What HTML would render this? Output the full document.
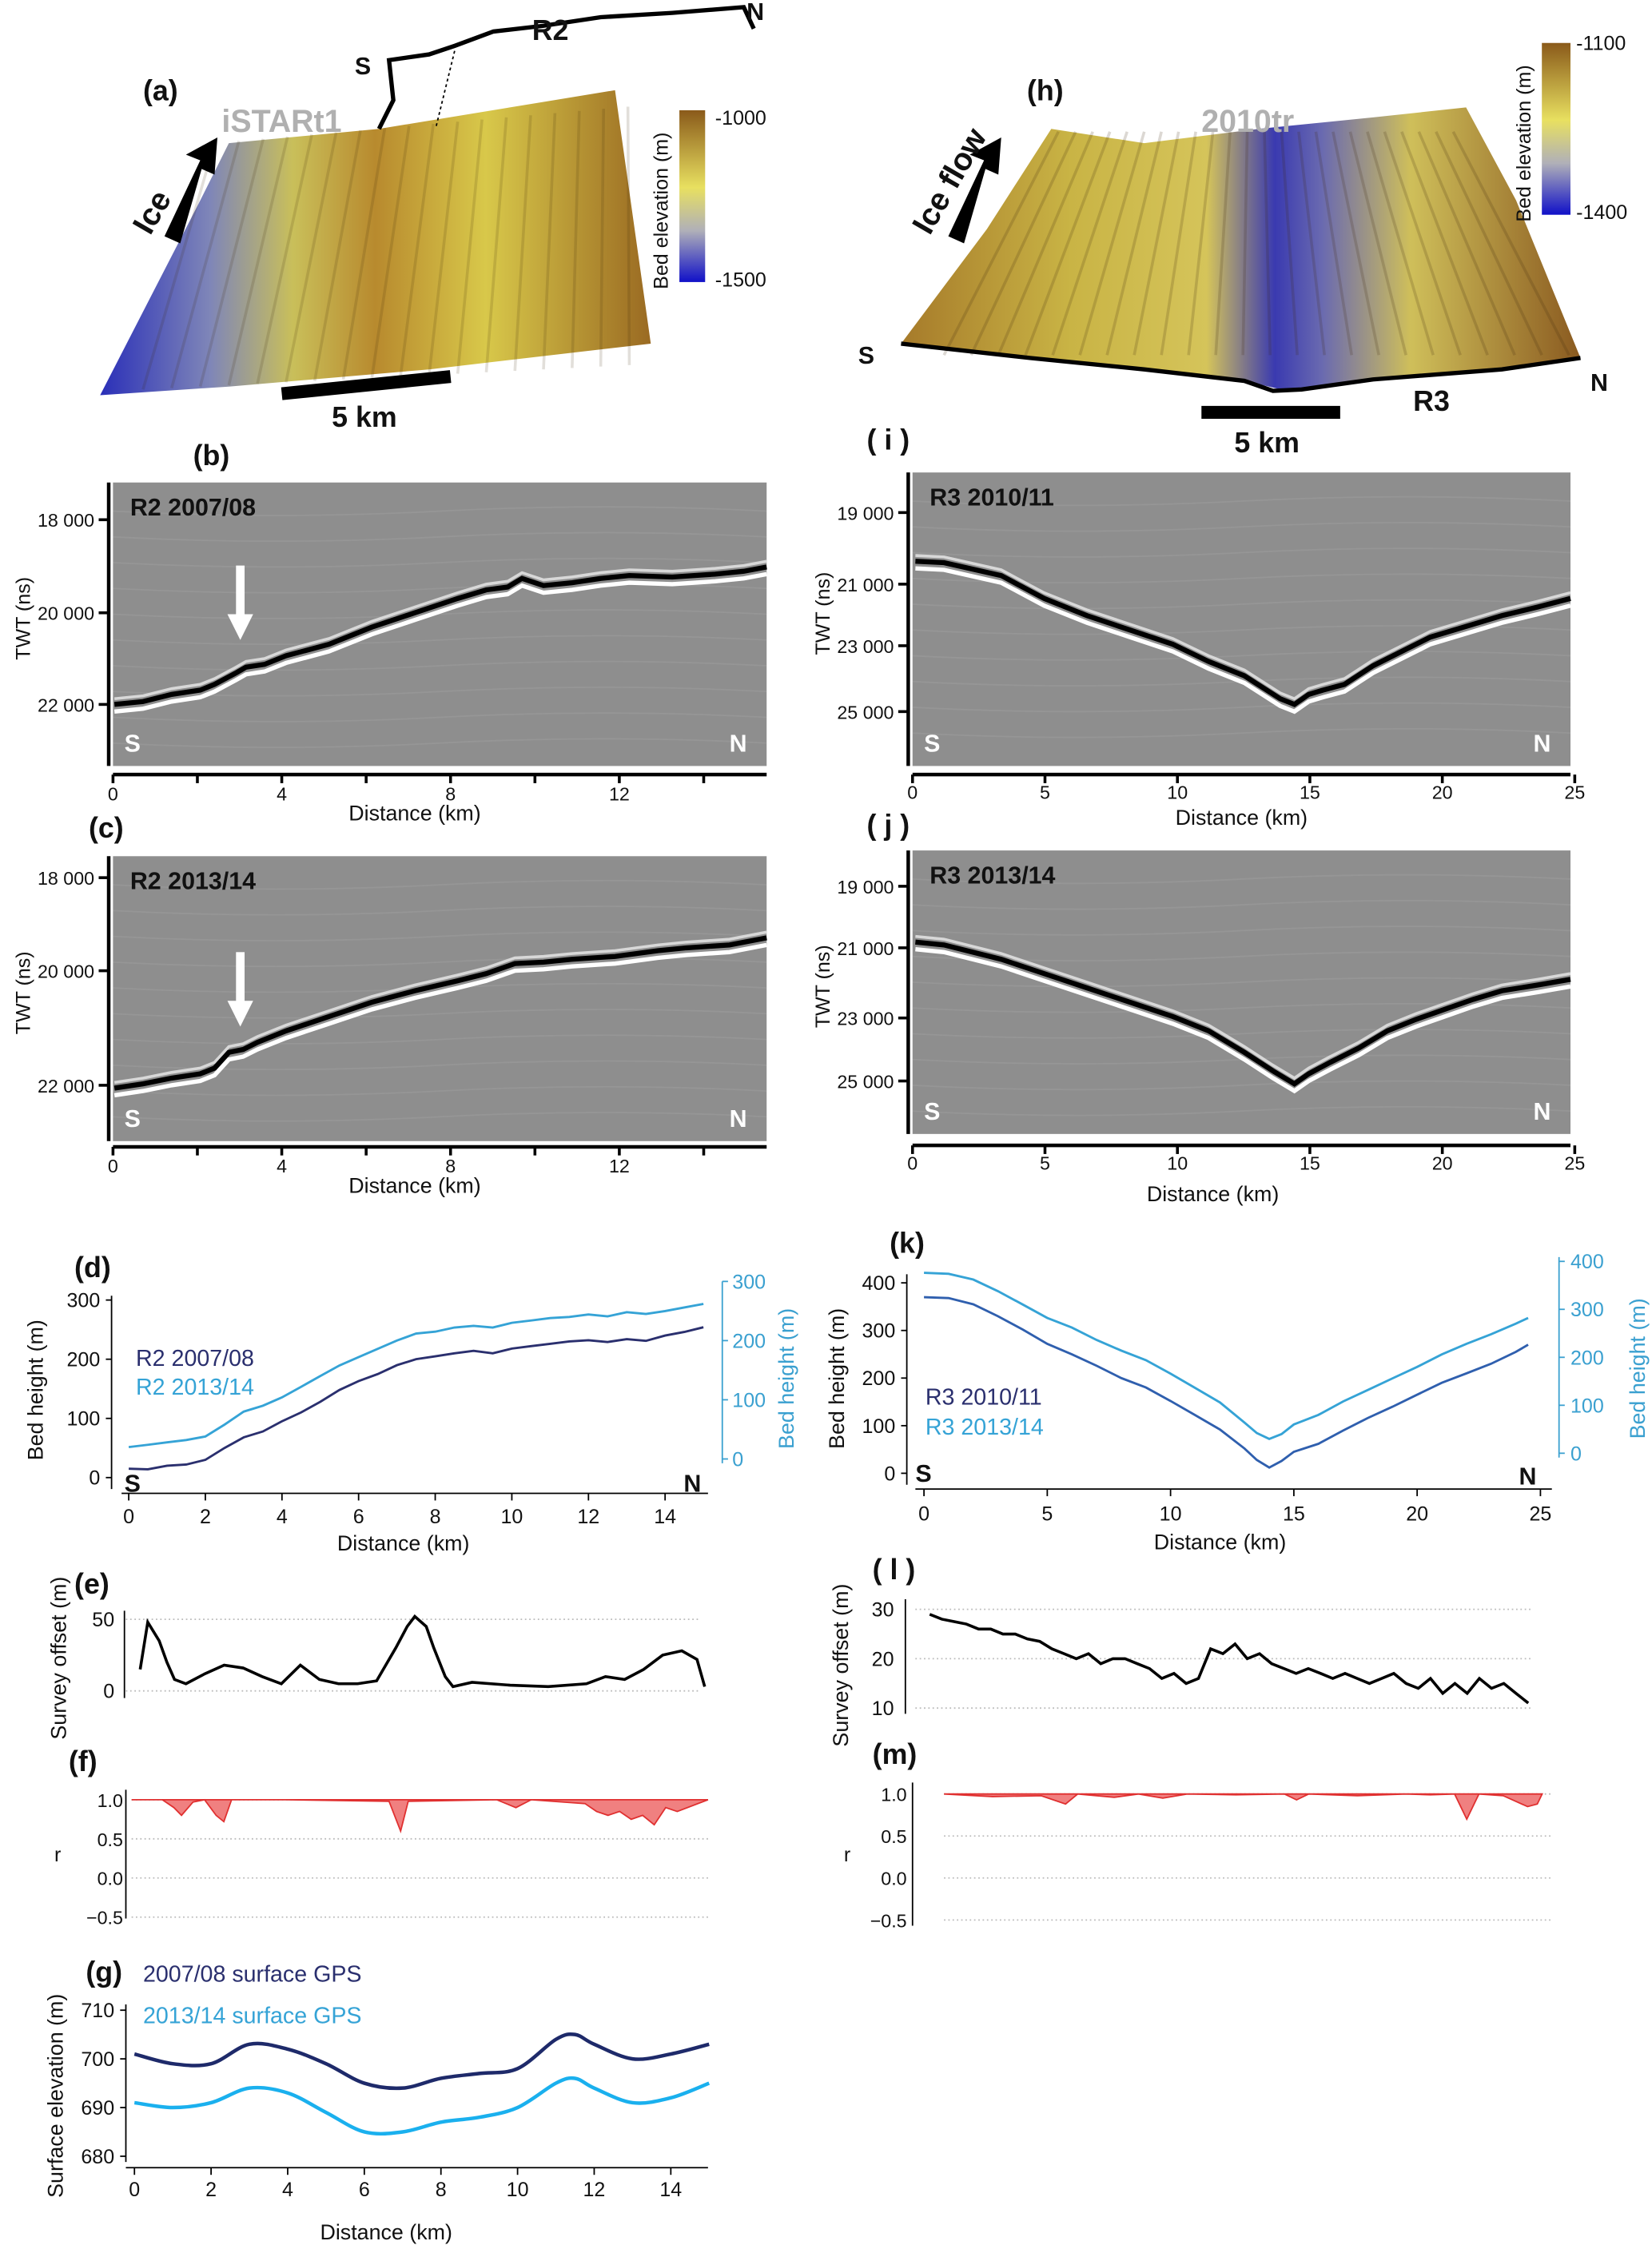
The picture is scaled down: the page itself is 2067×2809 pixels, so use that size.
<!DOCTYPE html>
<html><head><meta charset="utf-8"><style>
html,body{margin:0;padding:0;background:#fff}
svg{display:block}
text{font-family:"Liberation Sans",sans-serif}
</style></head><body>
<svg id="fig" xmlns="http://www.w3.org/2000/svg" width="2067" height="2809" viewBox="0 0 1155 1568" preserveAspectRatio="none">
<defs>
<linearGradient id="gA" x1="0" y1="0" x2="1" y2="0">
<stop offset="0" stop-color="#2a2fb8"/><stop offset="0.2" stop-color="#7f86b8"/><stop offset="0.35" stop-color="#c9bf5a"/><stop offset="0.5" stop-color="#b88a2e"/><stop offset="0.7" stop-color="#d8c84a"/><stop offset="1" stop-color="#9a6a22"/></linearGradient>
<linearGradient id="gH" x1="0" y1="0" x2="1" y2="0">
<stop offset="0" stop-color="#a67a2a"/><stop offset="0.25" stop-color="#c9b445"/><stop offset="0.45" stop-color="#d5c45a"/><stop offset="0.55" stop-color="#3a3ab0"/><stop offset="0.62" stop-color="#6a6ab0"/><stop offset="0.75" stop-color="#cfbf5a"/><stop offset="1" stop-color="#8a5a20"/></linearGradient>
<linearGradient id="cb" x1="0" y1="0" x2="0" y2="1">
<stop offset="0" stop-color="#8a5a1a"/><stop offset="0.45" stop-color="#e8e060"/><stop offset="0.7" stop-color="#b0b0b8"/><stop offset="1" stop-color="#1010c8"/></linearGradient>
</defs>
<g id="root"></g>
</svg>
<script>
// ---------- data ----------
const dKm=[0,0.5,1,1.5,2,2.5,3,3.5,4,4.5,5,5.5,6,6.5,7,7.5,8,8.5,9,9.5,10,10.5,11,11.5,12,12.5,13,13.5,14,14.5,15];
const d0708=[15,14,20,22,30,50,68,78,95,110,128,148,163,175,190,200,205,210,214,210,218,222,226,230,232,229,234,231,240,246,254];
const d1314=[20,24,28,32,38,58,80,90,104,122,140,158,172,186,200,212,215,222,225,222,230,234,238,240,244,241,248,245,250,256,262];
const kKm=[0,1,2,3,4,5,6,7,8,9,10,11,12,13,13.5,14,14.5,15,16,17,18,19,20,21,22,23,24,24.5];
const k1011=[370,368,355,330,302,272,250,226,200,180,152,122,92,52,28,12,26,45,62,90,116,140,165,190,210,230,255,270];
const k1314=[376,374,362,338,310,282,262,236,214,194,166,136,106,64,42,30,40,60,80,108,132,156,180,206,228,248,270,282];
const eKm=[0.3,0.5,0.8,1,1.2,1.5,2,2.5,3,3.5,4,4.5,5,5.5,6,6.5,7,7.3,7.5,7.8,8,8.3,8.5,9,10,11,12,12.5,13,13.5,14,14.5,14.9,15.1];
const eOff=[15,48,35,20,8,5,12,18,16,10,5,18,8,5,5,7,30,45,52,45,30,10,3,6,4,3,5,10,8,15,25,28,22,3];
const lKm=[0,0.5,1,1.5,2,2.5,3,3.5,4,4.5,5,5.5,6,6.5,7,7.5,8,8.5,9,9.5,10,10.5,11,11.5,12,12.5,13,13.5,14,14.5,15,15.5,16,16.5,17,17.5,18,18.5,19,19.5,20,20.5,21,21.5,22,22.5,23,23.5,24,24.5];
const lOff=[29,28,27.5,27,26,26,25,25,24,23.5,22,21,20,21,19,20,20,19,18,16,17,15,16,22,21,23,20,21,19,18,17,18,17,16,17,16,15,16,17,15,14,16,13,15,13,16,14,15,13,11];
const fKm=[0,0.8,1.1,1.3,1.6,1.9,2.2,2.4,2.6,4,6.7,7.0,7.2,9.5,10,10.4,11.8,12.1,12.4,12.7,13,13.3,13.6,13.9,14.2,15];
const fR=[1,1,0.9,0.8,0.97,1,0.8,0.72,1,1,0.98,0.6,0.98,1,0.9,1,0.95,0.85,0.8,0.85,0.75,0.8,0.68,0.9,0.85,1];
const mKm=[0,2,4,5,5.5,7,8,9,10,12,14,14.5,15,17,19,20,21,21.5,22,23,24,24.4,24.6];
const mR=[1,0.97,0.98,0.88,1,0.96,1,0.95,1,0.99,1,0.93,1,0.98,1,0.99,1,0.7,1,0.98,0.85,0.88,1];
const gKm=[0,1,2,3,4,5,6,7,8,9,10,11,11.5,12,13,14,15];
const g0708=[701,699,699,703,702,699,695,694,696,697,698,704,705,703,700,701,703];
const g1314=[691,690,691,694,693,689,685,685,687,688,690,695,696,694,691,692,695];

// ---------- helpers ----------
const NS="http://www.w3.org/2000/svg";
const root=document.getElementById('root');
function mk(tag,attrs,parent){const e=document.createElementNS(NS,tag);for(const k in attrs)e.setAttribute(k,attrs[k]);(parent||root).appendChild(e);return e;}
function txt(x,y,s,size,opt){opt=opt||{};const e=mk('text',{x:x,y:y,'font-size':size,fill:opt.fill||'#111','font-weight':opt.bold?'bold':'normal','text-anchor':opt.anchor||'start'});if(opt.rot)e.setAttribute('transform','rotate('+opt.rot+' '+x+' '+y+')');e.textContent=s;return e;}
function lin(d0,d1,r0,r1){return v=>r0+(v-d0)*(r1-r0)/(d1-d0);}
function path(xs,ys,sx,sy,smooth){const p=xs.map((v,i)=>[sx(v),sy(ys[i])]);if(!smooth)return 'M'+p.map(q=>q[0].toFixed(1)+','+q[1].toFixed(1)).join('L');let d='M'+p[0][0]+','+p[0][1];for(let i=0;i<p.length-1;i++){const a=p[Math.max(i-1,0)],b=p[i],c=p[i+1],e=p[Math.min(i+2,p.length-1)];d+='C'+(b[0]+(c[0]-a[0])/6)+','+(b[1]+(c[1]-a[1])/6)+' '+(c[0]-(e[0]-b[0])/6)+','+(c[1]-(e[1]-b[1])/6)+' '+c[0]+','+c[1];}return d;}

// ---------- panel (a) ----------
let e;
txt(100,70,'(a)',20,{bold:1});
e=mk('polygon',{points:'70,276 140,140 160,100 265,90 430,63 455,240 300,258 160,270',fill:'url(#gA)'});

for(let i=0;i<18;i++){mk('line',{x1:150+i*17,y1:100-i*1.5,x2:100+i*20,y2:272-i*1,stroke:'rgba(60,40,10,0.15)','stroke-width':2});}
txt(155,92,'iSTARt1',22,{bold:1,fill:'#b0b0b0'});
mk('polygon',{points:'115,165 140,112 130,108 152,96 150,122 141,118 126,170',fill:'#000'});
txt(105,165,'Ice',22,{bold:1,rot:-60});
e=mk('path',{d:'M265,90 L275,70 L272,42 L300,38 L318,32 L345,22 L380,18 L420,12 L470,9 L520,5 L527,20',fill:'none',stroke:'#000','stroke-width':3});

mk('line',{x1:305,y1:88,x2:318,y2:35,stroke:'#000','stroke-dasharray':'2,2'});
txt(248,52,'S',17,{bold:1});txt(372,28,'R2',20,{bold:1});txt(522,14,'N',17,{bold:1});
mk('line',{x1:197,y1:275,x2:315,y2:263,stroke:'#000','stroke-width':9});
txt(232,298,'5 km',20,{bold:1});
e=mk('rect',{x:475,y:77,width:18,height:120,fill:'url(#cb)'});

txt(500,87,'-1000',14);txt(500,200,'-1500',14);txt(467,202,'Bed elevation (m)',14,{rot:-90});

// ---------- panel (h) ----------
txt(718,70,'(h)',20,{bold:1});
e=mk('path',{d:'M630,240 L690,160 L735,90 L800,100 L880,90 L960,82 L1025,75 L1060,140 L1105,250 L1050,258 L960,265 L900,273 L870,266 L800,258 L720,250 Z',fill:'url(#gH)'});

for(let i=0;i<24;i++){mk('line',{x1:740+i*12,y1:92,x2:660+i*19,y2:248,stroke:'rgba(60,40,10,0.18)','stroke-width':2});}
mk('path',{d:'M630,240 L720,250 L800,258 L870,266 L890,273 L910,272 L960,265 L1050,258 L1105,250',fill:'none',stroke:'#000','stroke-width':3});
txt(840,92,'2010tr',22,{bold:1,fill:'#b0b0b0'});
mk('polygon',{points:'663,165 688,112 678,108 700,96 698,122 689,118 674,170',fill:'#000'});
txt(650,165,'Ice flow',22,{bold:1,rot:-60});
txt(600,254,'S',17,{bold:1});txt(1112,273,'N',17,{bold:1});txt(988,287,'R3',20,{bold:1});
mk('line',{x1:840,y1:288,x2:937,y2:288,stroke:'#000','stroke-width':9});
txt(863,316,'5 km',20,{bold:1});
e=mk('rect',{x:1078,y:30,width:20,height:120,fill:'url(#cb)'});

txt(1102,35,'-1100',14);txt(1102,153,'-1400',14);txt(1070,155,'Bed elevation (m)',14,{rot:-90});

// ---------- radargrams ----------
function radar(name,x,y,w,h,refl,yTicks,xTicks,axY,sx,title,arrow,lblX,tickOff,lblOff){
  const g=mk('rect',{x:x,y:y,width:w,height:h,fill:'#8e8e8e'});
  
  for(let i=0;i<10;i++)mk('path',{d:'M'+x+','+(y+20+i*18)+' q'+(w/4)+',6 '+(w/2)+',0 t'+(w/2)+',0',fill:'none',stroke:'rgba(255,255,255,0.07)'});
  const d='M'+refl.map(p=>p.join(',')).join('L');
  mk('path',{d:d,fill:'none',stroke:'#fff','stroke-width':3,transform:'translate(0,5)'});
  mk('path',{d:d,fill:'none',stroke:'#d8d8d8','stroke-width':2,transform:'translate(0,-4)'});
  mk('path',{d:d,fill:'none',stroke:'#000','stroke-width':3.5});
  txt(x+12,y+23,title,17,{bold:1});
  txt(x+8,y+h-10,'S',17,{bold:1,fill:'#fff'});txt(x+w-26,y+h-10,'N',17,{bold:1,fill:'#fff'});
  mk('line',{x1:x-3,y1:y,x2:x-3,y2:y+h,stroke:'#000','stroke-width':2.5});
  yTicks.forEach(t=>{mk('line',{x1:x-10,y1:t[1],x2:x-3,y2:t[1],stroke:'#000','stroke-width':2});txt(x-13,t[1]+5,t[0],13,{anchor:'end'});});
  txt(x-58,y+h/2+25,'TWT (ns)',14,{rot:-90});
  mk('line',{x1:x,y1:axY,x2:x+w,y2:axY,stroke:'#000','stroke-width':2.5});
  xTicks.forEach(t=>{mk('line',{x1:sx(t[0]),y1:axY,x2:sx(t[0]),y2:axY+6,stroke:'#000','stroke-width':2});if(t[1])txt(sx(t[0]),axY+tickOff,t[1],13,{anchor:'middle'});});
  txt(lblX,axY+lblOff,'Distance (km)',15,{anchor:'middle'});
  if(arrow){mk('rect',{x:arrow[0]-3,y:arrow[1],width:6,height:36,fill:'#fff'});mk('polygon',{points:(arrow[0]-9)+','+(arrow[1]+34)+' '+(arrow[0]+9)+','+(arrow[1]+34)+' '+arrow[0]+','+(arrow[1]+52),fill:'#fff'});}
}
const sxR2=lin(0,12,79,433), sxR3=lin(0,25,638,1101);
const r2Ticks=[[0,'0'],[2,''],[4,'4'],[6,''],[8,'8'],[10,''],[12,'12'],[14,'']];
const r3Ticks=[[0,'0'],[5,'5'],[10,'10'],[15,'15'],[20,'20'],[25,'25']];
txt(135,325,'(b)',20,{bold:1});
radar('radargram-b',79,337,457,198,[[80,492],[100,490],[120,485],[140,482],[150,478],[165,470],[172,466],[185,464],[200,458],[230,450],[260,438],[290,428],[320,418],[340,412],[355,410],[365,404],[380,409],[400,407],[420,404],[440,402],[470,403],[500,401],[520,399],[536,396]],[['18 000',363],['20 000',428],['22 000',492]],r2Ticks,541,sxR2,'R2 2007/08',[168,395],290,18,32);
txt(62,585,'(c)',20,{bold:1});
radar('radargram-c',79,598,457,199,[[80,760],[100,757],[120,753],[140,750],[150,746],[160,735],[170,733],[180,728],[200,720],[230,710],[260,700],[290,692],[320,685],[340,680],[360,673],[380,672],[400,670],[430,668],[460,664],[480,662],[510,660],[536,655]],[['18 000',613],['20 000',678],['22 000',758]],r2Ticks,801,sxR2,'R2 2013/14',[168,665],290,18,32);
txt(606,314,'( i )',20,{bold:1});
radar('radargram-i',638,330,460,205,[[640,392],[660,393],[700,402],[730,418],[760,430],[790,440],[820,450],[845,462],[870,472],[895,488],[905,492],[915,485],[925,482],[940,478],[960,465],[980,455],[1000,445],[1030,436],[1050,430],[1075,424],[1098,418]],[['19 000',358],['21 000',408],['23 000',451],['25 000',497]],r3Ticks,541,sxR3,'R3 2010/11',null,868,17,35);
txt(606,583,'( j )',20,{bold:1});
radar('radargram-j',638,594,460,198,[[640,658],[660,660],[700,670],[730,680],[760,690],[790,700],[820,710],[845,720],[870,735],[890,748],[905,757],[915,750],[930,742],[950,732],[970,720],[990,712],[1010,705],[1030,698],[1050,692],[1075,688],[1098,684]],[['19 000',619],['21 000',662],['23 000',711],['25 000',755]],r3Ticks,800,sxR3,'R3 2013/14',null,848,17,39);

// ---------- (d) ----------
txt(52,892,'(d)',20,{bold:1});
{const sx=lin(0,14,90,465),syL=lin(0,300,1032,908),syR=lin(0,300,1019,895);
mk('line',{x1:78,y1:1040,x2:78,y2:905,stroke:'#000'});
[0,100,200,300].forEach(v=>{mk('line',{x1:74,y1:syL(v),x2:78,y2:syL(v),stroke:'#000'});txt(70,syL(v)+5,v,14,{anchor:'end'});});
txt(30,1020,'Bed height (m)',15,{rot:-90});
mk('line',{x1:505,y1:895,x2:505,y2:1022,stroke:'#3aa0d0'});
[0,100,200,300].forEach(v=>{mk('line',{x1:505,y1:syR(v),x2:509,y2:syR(v),stroke:'#3aa0d0'});txt(512,syR(v)+5,v,14,{fill:'#3aa0d0'});});
txt(555,1012,'Bed height (m)',15,{rot:-90,fill:'#3aa0d0'});
mk('line',{x1:85,y1:1043,x2:495,y2:1043,stroke:'#000'});
[0,2,4,6,8,10,12,14].forEach(v=>{mk('line',{x1:sx(v),y1:1043,x2:sx(v),y2:1048,stroke:'#000'});txt(sx(v),1064,v,14,{anchor:'middle'});});
txt(282,1083,'Distance (km)',15,{anchor:'middle'});
e=mk('path',{d:path(dKm,d1314,sx,syR),fill:'none',stroke:'#35a3d6','stroke-width':1.6});

e=mk('path',{d:path(dKm,d0708,sx,syL),fill:'none',stroke:'#2a2f6e','stroke-width':1.6});

txt(95,954,'R2 2007/08',16,{fill:'#2a2f6e'});txt(95,974,'R2 2013/14',16,{fill:'#35a3d6'});
txt(87,1042,'S',17,{bold:1});txt(478,1042,'N',17,{bold:1});}

// ---------- (k) ----------
txt(622,875,'(k)',20,{bold:1});
{const sx=lin(0,25,646,1077),syL=lin(0,400,1029,896),syR=lin(0,400,1015,881);
mk('line',{x1:634,y1:1037,x2:634,y2:890,stroke:'#000'});
[0,100,200,300,400].forEach(v=>{mk('line',{x1:630,y1:syL(v),x2:634,y2:syL(v),stroke:'#000'});txt(626,syL(v)+5,v,14,{anchor:'end'});});
txt(590,1012,'Bed height (m)',15,{rot:-90});
mk('line',{x1:1090,y1:878,x2:1090,y2:1018,stroke:'#3aa0d0'});
[0,100,200,300,400].forEach(v=>{mk('line',{x1:1090,y1:syR(v),x2:1094,y2:syR(v),stroke:'#3aa0d0'});txt(1098,syR(v)+5,v,14,{fill:'#3aa0d0'});});
txt(1150,1005,'Bed height (m)',15,{rot:-90,fill:'#3aa0d0'});
mk('line',{x1:640,y1:1040,x2:1085,y2:1040,stroke:'#000'});
[0,5,10,15,20,25].forEach(v=>{mk('line',{x1:sx(v),y1:1040,x2:sx(v),y2:1045,stroke:'#000'});txt(sx(v),1062,v,14,{anchor:'middle'});});
txt(853,1082,'Distance (km)',15,{anchor:'middle'});
e=mk('path',{d:path(kKm,k1314,sx,syR),fill:'none',stroke:'#35a3d6','stroke-width':1.6});

e=mk('path',{d:path(kKm,k1011,sx,syL),fill:'none',stroke:'#2f5fae','stroke-width':1.6});

txt(647,981,'R3 2010/11',16,{fill:'#2a2f6e'});txt(647,1002,'R3 2013/14',16,{fill:'#35a3d6'});
txt(640,1035,'S',17,{bold:1});txt(1062,1037,'N',17,{bold:1});}

// ---------- (e) ----------
txt(52,1113,'(e)',20,{bold:1});
{const sx=lin(0,15,90,490),sy=lin(0,50,1181,1131);
[0,50].forEach(v=>{mk('line',{x1:88,y1:sy(v),x2:490,y2:sy(v),stroke:'#bbb','stroke-dasharray':'1,2'});txt(80,sy(v)+5,v,14,{anchor:'end'});});
mk('line',{x1:87,y1:1125,x2:87,y2:1186,stroke:'#000'});
txt(46,1215,'Survey offset (m)',15,{rot:-90});
e=mk('path',{d:path(eKm,eOff,sx,sy),fill:'none',stroke:'#000','stroke-width':2});
}

// ---------- (l) ----------
txt(610,1103,'( l )',20,{bold:1});
{const sx=lin(0,25,650,1077),sy=lin(10,30,1193,1124);
[10,20,30].forEach(v=>{mk('line',{x1:640,y1:sy(v),x2:1070,y2:sy(v),stroke:'#bbb','stroke-dasharray':'1,2'});txt(625,sy(v)+5,v,14,{anchor:'end'});});
mk('line',{x1:633,y1:1117,x2:633,y2:1197,stroke:'#000'});
txt(593,1220,'Survey offset (m)',15,{rot:-90});
e=mk('path',{d:path(lKm,lOff,sx,sy),fill:'none',stroke:'#000','stroke-width':2});
}

// ---------- (f) ----------
txt(48,1237,'(f)',20,{bold:1});
{const sx=lin(0,15,92,495),sy=lin(1,-0.5,1257,1339);
[1,0.5,0,-0.5].forEach(v=>{mk('line',{x1:92,y1:sy(v),x2:495,y2:sy(v),stroke:'#bbb','stroke-dasharray':'1,2'});txt(86,sy(v)+5,v.toFixed(1).replace('-','−'),13,{anchor:'end'});});
mk('line',{x1:88,y1:1250,x2:88,y2:1340,stroke:'#000'});
txt(38,1300,'r',14,{});
e=mk('path',{d:path(fKm,fR,sx,sy)+'L'+sx(15)+','+sy(1)+'L'+sx(0)+','+sy(1)+'Z',fill:'#f08080',stroke:'#e03030','stroke-width':1});
}

// ---------- (m) ----------
txt(610,1232,'(m)',20,{bold:1});
{const sx=lin(0,25,660,1085),sy=lin(1,-0.5,1253,1341);
[1,0.5,0,-0.5].forEach(v=>{mk('line',{x1:660,y1:sy(v),x2:1085,y2:sy(v),stroke:'#bbb','stroke-dasharray':'1,2'});txt(634,sy(v)+5,v.toFixed(1).replace('-','−'),13,{anchor:'end'});});
mk('line',{x1:638,y1:1245,x2:638,y2:1345,stroke:'#000'});
txt(590,1300,'r',14,{});
e=mk('path',{d:path(mKm,mR,sx,sy)+'L'+sx(24.6)+','+sy(1)+'L'+sx(0)+','+sy(1)+'Z',fill:'#f08080',stroke:'#e03030','stroke-width':1});
}

// ---------- (g) ----------
txt(60,1384,'(g)',20,{bold:1});
txt(100,1384,'2007/08 surface GPS',16,{fill:'#2a2f6e'});
txt(100,1413,'2013/14 surface GPS',16,{fill:'#35a3d6'});
{const sx=lin(0,14,94,469),sy=lin(680,710,1506,1404);
mk('line',{x1:88,y1:1400,x2:88,y2:1510,stroke:'#000'});
[680,690,700,710].forEach(v=>{mk('line',{x1:84,y1:sy(v),x2:88,y2:sy(v),stroke:'#000'});txt(80,sy(v)+5,v,14,{anchor:'end'});});
txt(44,1535,'Surface elevation (m)',15,{rot:-90});
mk('line',{x1:88,y1:1514,x2:495,y2:1514,stroke:'#000'});
[0,2,4,6,8,10,12,14].forEach(v=>{mk('line',{x1:sx(v),y1:1514,x2:sx(v),y2:1519,stroke:'#000'});txt(sx(v),1534,v,14,{anchor:'middle'});});
txt(270,1564,'Distance (km)',15,{anchor:'middle'});
e=mk('path',{d:path(gKm,g0708,sx,sy,1),fill:'none',stroke:'#1e2a6a','stroke-width':2.5});

e=mk('path',{d:path(gKm,g1314,sx,sy,1),fill:'none',stroke:'#1ab0ee','stroke-width':2.5});
}
</script>
</body></html>
